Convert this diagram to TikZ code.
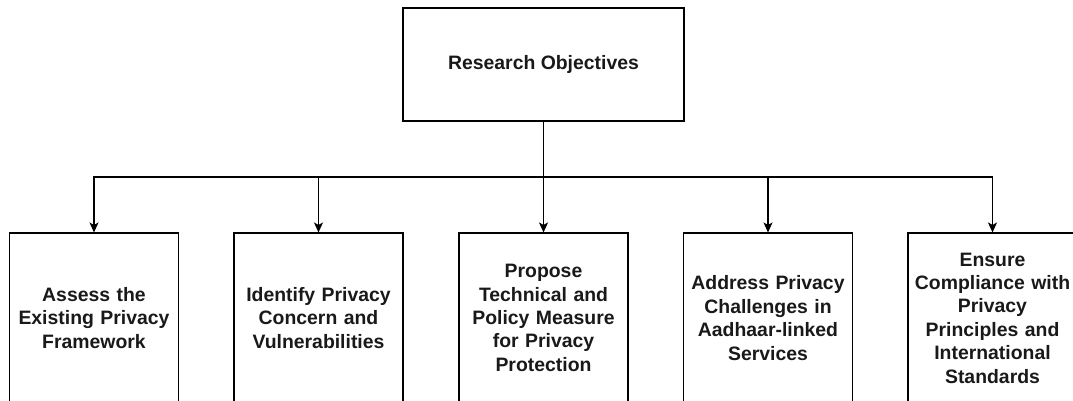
\documentclass[tikz,border=0pt]{standalone}
\usepackage{fontspec}
\setmainfont{Liberation Sans}
\usetikzlibrary{arrows.meta}
\begin{document}
\begin{tikzpicture}[x=1pt,y=-1pt,
  box/.style={draw=black, line width=1.1pt, fill=white, align=center, inner sep=0pt,
    font=\fontsize{19.4}{23.4}\selectfont\bfseries, text=black!90},
  topbox/.style={box, minimum width=281pt, minimum height=113pt},
  objbox/.style={box, minimum width=169pt, minimum height=170pt, text width=165pt},
  conn/.style={draw=black, line width=1.1pt},
  arr/.style={conn, -{Stealth[length=10pt,width=9pt,inset=2.5pt]}}]
\useasboundingbox (0,0) rectangle (1073,401);
\node[topbox] (top) at (543.5,64.5) {Research Objectives};
\coordinate (bus) at (543.5,177);
\node[objbox] (b1) at (94,318) {Assess the\\Existing Privacy\\Framework};
\node[objbox] (b2) at (318.5,318) {Identify Privacy\\Concern and\\Vulnerabilities};
\node[objbox] (b3) at (543.5,318) {Propose\\Technical and\\Policy Measure\\for Privacy\\Protection};
\node[objbox] (b4) at (768,318) {Address Privacy\\Challenges in\\Aadhaar-linked\\Services};
\node[objbox] (b5) at (992.5,318) {Ensure\\Compliance with\\Privacy\\Principles and\\International\\Standards};
\foreach \b in {b1,b2,b3,b4,b5}{
  \draw[arr] (top.south) -- (bus) -| (\b.north);
}
\end{tikzpicture}
\end{document}
